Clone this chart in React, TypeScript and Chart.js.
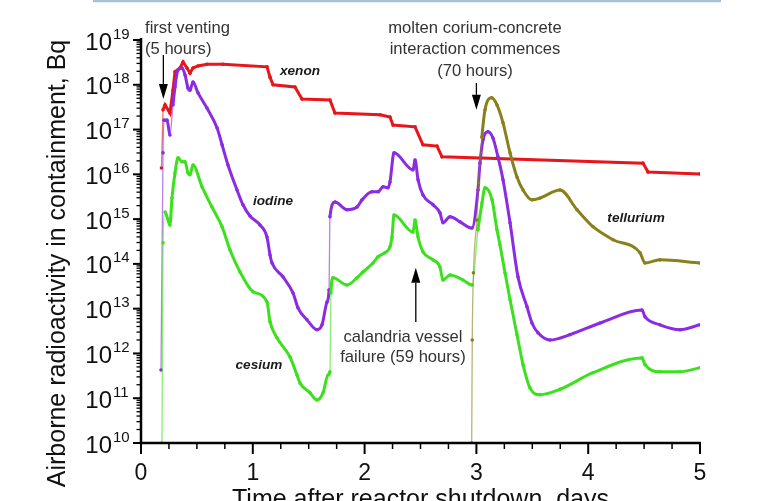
import { useEffect, useRef } from "react";
import { Chart, registerables } from "chart.js";

Chart.register(...registerables);

// ---------- data (x: days after shutdown, y: log10 of activity in Bq) ----------
const xenonDays = [0.183, 0.197, 0.215, 0.259, 0.286, 0.304, 0.349, 0.376, 0.411, 0.438, 0.465, 0.51, 0.59, 0.733, 1.127, 1.154, 1.181, 1.377, 1.44, 1.69, 1.735, 2.138, 2.227, 2.254, 2.451, 2.522, 2.648, 2.692, 4.49, 4.535, 5.0];
const xenonLog = [16.14, 17.44, 17.55, 17.37, 17.88, 18.29, 18.375, 18.51, 18.375, 18.26, 18.375, 18.42, 18.46, 18.46, 18.4, 18.17, 18.0, 17.95, 17.68, 17.66, 17.37, 17.33, 17.28, 17.1, 17.06, 16.66, 16.63, 16.39, 16.25, 16.05, 16.01];

const iodineDays = [0.179, 0.197, 0.206, 0.233, 0.259, 0.286, 0.304, 0.331, 0.367, 0.394, 0.42, 0.438, 0.465, 0.51, 0.59, 0.68, 0.725, 0.778, 0.859, 0.912, 0.975, 1.064, 1.127, 1.154, 1.172, 1.27, 1.36, 1.404, 1.485, 1.574, 1.619, 1.664, 1.682, 1.69, 1.735, 1.843, 1.932, 1.977, 2.066, 2.12, 2.165, 2.209, 2.227, 2.263, 2.433, 2.451, 2.478, 2.522, 2.612, 2.674, 2.701, 2.764, 2.853, 2.961, 3.014, 3.032, 3.059, 3.104, 3.148, 3.193, 3.238, 3.301, 3.372, 3.453, 3.497, 3.551, 3.658, 3.837, 4.106, 4.481, 4.508, 4.642, 4.821, 5.0];
const iodineLog = [11.63, 16.48, 17.21, 17.21, 16.88, 17.55, 17.95, 18.33, 18.375, 18.22, 17.93, 17.88, 18.06, 17.82, 17.48, 17.04, 16.66, 16.21, 15.65, 15.32, 15.07, 14.87, 14.6, 14.2, 14.02, 13.71, 13.35, 13.02, 12.75, 12.53, 12.64, 13.15, 13.42, 15.05, 15.38, 15.21, 15.27, 15.43, 15.61, 15.61, 15.72, 15.7, 15.83, 16.48, 16.1, 16.32, 15.88, 15.54, 15.32, 15.14, 14.92, 15.05, 14.94, 14.8, 15.65, 16.25, 16.77, 16.95, 16.81, 16.39, 15.88, 14.92, 13.71, 13.04, 12.68, 12.46, 12.3, 12.42, 12.68, 12.97, 12.82, 12.64, 12.53, 12.64];

const cesiumDays = [0.188, 0.197, 0.215, 0.259, 0.277, 0.304, 0.331, 0.367, 0.394, 0.42, 0.438, 0.465, 0.546, 0.635, 0.725, 0.796, 0.886, 1.002, 1.127, 1.154, 1.216, 1.333, 1.395, 1.422, 1.512, 1.574, 1.628, 1.673, 1.69, 1.699, 1.717, 1.843, 1.932, 1.986, 2.075, 2.12, 2.182, 2.227, 2.245, 2.263, 2.433, 2.451, 2.478, 2.522, 2.612, 2.674, 2.701, 2.764, 2.88, 2.961, 3.014, 3.05, 3.077, 3.14, 3.184, 3.211, 3.256, 3.301, 3.363, 3.417, 3.479, 3.569, 3.748, 4.043, 4.481, 4.508, 4.642, 4.821, 5.0];
const cesiumLog = [10.0, 14.47, 15.16, 14.87, 15.47, 16.03, 16.37, 16.28, 16.28, 16.03, 15.99, 16.21, 15.72, 15.27, 14.83, 14.31, 13.82, 13.38, 13.15, 12.71, 12.35, 11.92, 11.52, 11.34, 11.12, 10.96, 11.12, 11.52, 11.59, 13.35, 13.69, 13.53, 13.69, 13.82, 14.02, 14.16, 14.25, 14.38, 14.6, 15.09, 14.71, 14.98, 14.6, 14.27, 14.09, 13.93, 13.64, 13.75, 13.64, 13.53, 14.76, 15.36, 15.7, 15.43, 14.76, 14.42, 13.8, 13.2, 12.42, 11.75, 11.23, 11.08, 11.2, 11.57, 11.9, 11.75, 11.59, 11.59, 11.68];

const telluriumDays = [2.958, 2.963, 2.974, 3.004, 3.019, 3.049, 3.077, 3.137, 3.184, 3.238, 3.301, 3.363, 3.417, 3.497, 3.569, 3.748, 3.9, 4.043, 4.222, 4.463, 4.508, 4.642, 5.0];
const telluriumLog = [10.0, 12.3, 13.8, 14.98, 15.81, 16.83, 17.44, 17.71, 17.55, 17.15, 16.48, 15.94, 15.65, 15.43, 15.47, 15.65, 15.21, 14.83, 14.54, 14.25, 14.02, 14.09, 14.02];

// ---------- axes ----------
const xTickValues = [0, 1, 2, 3, 4, 5];
const xMinorStep = 0.25;
const yTickExponents = [10, 11, 12, 13, 14, 15, 16, 17, 18, 19];
const yMinorMultipliers = [2, 3, 4, 5, 6, 7, 8, 9];

const xTitle = "Time after reactor shutdown, days";
const yTitle = "Airborne radioactivity in containment, Bq";

// ---------- annotations (x in days, y in log10 Bq) ----------
type Note = { text: string; x: number; y: number; align: CanvasTextAlign; kind: "note" | "label" };
const notes: Note[] = [
  { text: "first venting", x: 0.036, y: 19.268, align: "left", kind: "note" },
  { text: "(5 hours)", x: 0.036, y: 18.8, align: "left", kind: "note" },
  { text: "molten corium-concrete", x: 2.987, y: 19.268, align: "center", kind: "note" },
  { text: "interaction commences", x: 2.987, y: 18.8, align: "center", kind: "note" },
  { text: "(70 hours)", x: 2.987, y: 18.308, align: "center", kind: "note" },
  { text: "calandria vessel", x: 2.343, y: 12.348, align: "center", kind: "note" },
  { text: "failure (59 hours)", x: 2.343, y: 11.902, align: "center", kind: "note" },
  { text: "xenon", x: 1.422, y: 18.308, align: "center", kind: "label" },
  { text: "iodine", x: 1.181, y: 15.406, align: "center", kind: "label" },
  { text: "cesium", x: 1.055, y: 11.746, align: "center", kind: "label" },
  { text: "tellurium", x: 4.428, y: 15.027, align: "center", kind: "label" },
];
type Arrow = { x: number; fromY: number; toY: number };
const arrows: Arrow[] = [
  { x: 0.2, fromY: 18.665, toY: 17.683 },
  { x: 3.0, fromY: 18.04, toY: 17.44 },
  { x: 2.458, fromY: 12.705, toY: 13.911 },
];

const FONT = '"Liberation Sans", Arial, Helvetica, sans-serif';
const COLORS = {
  xenon: "#e8161b",
  iodine: "#8b2be2",
  cesium: "#3ce11e",
  tellurium: "#8a801a",
};

const toPoints = (days: number[], logs: number[]) =>
  days.map((d, i) => ({ x: d, y: Math.pow(10, logs[i]) }));

const steep = (c: any) => {
  const dx = Math.abs(c.p1.x - c.p0.x);
  const dy = Math.abs(c.p1.y - c.p0.y);
  return dy > 30 && dy > 8 * dx;
};

function makeDataset(label: string, color: string, days: number[], logs: number[], smooth: boolean) {
  return {
    label,
    data: toPoints(days, logs),
    borderColor: color,
    backgroundColor: color,
    pointBackgroundColor: color,
    pointBorderWidth: 0,
    pointRadius: 1.8,
    pointHoverRadius: 1.8,
    borderWidth: 3,
    tension: smooth ? 0.3 : 0,
    cubicInterpolationMode: smooth ? ("monotone" as const) : ("default" as const),
    fill: false,
    segment: {
      borderWidth: (c: any) => (steep(c) ? 1.3 : undefined),
      borderColor: (c: any) => (steep(c) ? color + "99" : undefined),
    },
  };
}

const decorPlugin = {
  id: "decor",
  afterDraw(chart: any) {
    const ctx: CanvasRenderingContext2D = chart.ctx;
    const xs = chart.scales.x;
    const ys = chart.scales.y;
    const area = chart.chartArea;
    const px = (d: number) => xs.getPixelForValue(d);
    const py = (e: number) => ys.getPixelForValue(Math.pow(10, e));
    ctx.save();

    // slide decoration line at the very top
    ctx.strokeStyle = "#a9c1d6";
    ctx.lineWidth = 2.5;
    ctx.beginPath();
    ctx.moveTo(93, 1);
    ctx.lineTo(721, 1);
    ctx.stroke();

    // axis lines
    ctx.strokeStyle = "#000";
    ctx.lineWidth = 2.5;
    ctx.beginPath();
    ctx.moveTo(area.left, area.top - 2);
    ctx.lineTo(area.left, area.bottom);
    ctx.lineTo(area.right + 1, area.bottom);
    ctx.stroke();

    // y ticks
    yTickExponents.forEach((e, i) => {
      const y = py(e);
      ctx.lineWidth = 2;
      ctx.beginPath();
      ctx.moveTo(area.left - 8, y);
      ctx.lineTo(area.left, y);
      ctx.stroke();
      if (i < yTickExponents.length - 1) {
        ctx.lineWidth = 1.3;
        yMinorMultipliers.forEach((m) => {
          const ym = ys.getPixelForValue(m * Math.pow(10, e));
          ctx.beginPath();
          ctx.moveTo(area.left - 4.5, ym);
          ctx.lineTo(area.left, ym);
          ctx.stroke();
        });
      }
    });

    // x ticks
    const xmin = xTickValues[0];
    const xmax = xTickValues[xTickValues.length - 1];
    for (let v = xmin; v <= xmax + 1e-9; v += xMinorStep) {
      const isMajor = xTickValues.some((t) => Math.abs(t - v) < 1e-9);
      const x = px(v);
      ctx.lineWidth = isMajor ? 2 : 1.5;
      ctx.beginPath();
      ctx.moveTo(x, area.bottom);
      ctx.lineTo(x, area.bottom + (isMajor ? 11 : 6));
      ctx.stroke();
    }

    // tick labels
    ctx.fillStyle = "#111";
    ctx.textBaseline = "alphabetic";
    yTickExponents.forEach((e) => {
      const y = py(e);
      ctx.font = `24px ${FONT}`;
      ctx.textAlign = "right";
      ctx.fillText("10", area.left - 29, y + 9.5);
      ctx.font = `15px ${FONT}`;
      ctx.textAlign = "left";
      ctx.fillText(String(e), area.left - 28, y - 1.5);
    });
    ctx.font = `23px ${FONT}`;
    ctx.textAlign = "center";
    xTickValues.forEach((v) => {
      ctx.fillText(String(v), px(v), area.bottom + 36.5);
    });

    // axis titles
    ctx.font = `25px ${FONT}`;
    ctx.fillStyle = "#111";
    ctx.textAlign = "center";
    ctx.fillText(xTitle, (area.left + area.right) / 2, area.bottom + 64);
    ctx.save();
    ctx.translate(65, 263.5);
    ctx.rotate(-Math.PI / 2);
    ctx.fillText(yTitle, 0, 0);
    ctx.restore();

    // annotations
    ctx.textBaseline = "middle";
    notes.forEach((n) => {
      if (n.kind === "note") {
        ctx.font = `16.6px ${FONT}`;
        ctx.fillStyle = "#333";
      } else {
        ctx.font = `italic bold 13.6px ${FONT}`;
        ctx.fillStyle = "#1a1a1a";
      }
      ctx.textAlign = n.align;
      ctx.fillText(n.text, px(n.x), py(n.y));
    });

    // arrows
    ctx.strokeStyle = "#000";
    ctx.fillStyle = "#000";
    arrows.forEach((a) => {
      const x = px(a.x);
      const y0 = py(a.fromY);
      const y1 = py(a.toY);
      const dir = y1 > y0 ? 1 : -1;
      const headLen = 15;
      ctx.lineWidth = 1.3;
      ctx.beginPath();
      ctx.moveTo(x, y0);
      ctx.lineTo(x, y1 - dir * headLen);
      ctx.stroke();
      ctx.beginPath();
      ctx.moveTo(x, y1);
      ctx.lineTo(x - 4.5, y1 - dir * headLen);
      ctx.lineTo(x + 4.5, y1 - dir * headLen);
      ctx.closePath();
      ctx.fill();
    });

    ctx.restore();
  },
};

export default function App() {
  const ref = useRef<HTMLCanvasElement>(null);
  useEffect(() => {
    document.body.style.margin = "0";
    const canvas = ref.current;
    if (!canvas) return;
    const chart = new Chart(canvas, {
      type: "line",
      data: {
        datasets: [
          makeDataset("tellurium", COLORS.tellurium, telluriumDays, telluriumLog, true),
          makeDataset("cesium", COLORS.cesium, cesiumDays, cesiumLog, true),
          makeDataset("iodine", COLORS.iodine, iodineDays, iodineLog, true),
          makeDataset("xenon", COLORS.xenon, xenonDays, xenonLog, false),
        ] as any,
      },
      options: {
        animation: false,
        responsive: false,
        layout: { padding: { left: 141, right: 58, top: 40, bottom: 58 } },
        scales: {
          x: { type: "linear", min: 0, max: 5, display: false },
          y: { type: "logarithmic", min: 1e10, max: 1e19, display: false },
        },
        plugins: { legend: { display: false }, tooltip: { enabled: false } },
        events: [],
      },
      plugins: [decorPlugin],
    });
    return () => chart.destroy();
  }, []);
  return (
    <div style={{ width: 758, height: 501, overflow: "hidden", background: "#fff" }}>
      <canvas ref={ref} width={758} height={501} style={{ display: "block" }} />
    </div>
  );
}
